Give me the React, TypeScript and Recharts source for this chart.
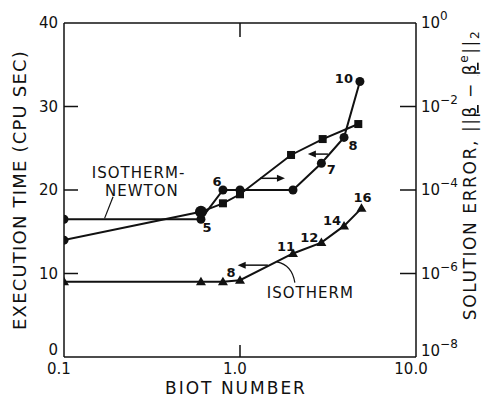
import {
  LabelList,
  Line,
  LineChart,
  ReferenceDot,
  ReferenceLine,
  XAxis,
  YAxis,
} from "recharts";

const FONT = "'DejaVu Sans', 'Liberation Sans', sans-serif";
const INK = "#111";

// isotherm-Newton, execution time (left axis), iteration counts beside points
const newtonTimeBiot = [0.1, 0.6, 0.8, 1.0, 2.0, 2.9, 3.9, 4.8];
const newtonTimeSec = [16.5, 16.5, 20.0, 20.0, 20.0, 23.2, 26.3, 33.0];
const newtonIters = [null, 5, 6, null, null, 7, 8, 10];

// isotherm-Newton, solution error (right axis)
const newtonErrBiot = [0.1, 0.6, 0.8, 1.0, 1.95, 2.95, 4.7];
const newtonErr = [6.3e-6, 3.0e-5, 4.8e-5, 7.9e-5, 6.9e-4, 1.66e-3, 3.8e-3];

// isotherm, execution time
const isoBiot = [0.1, 0.6, 0.8, 1.0, 2.0, 2.9, 3.9, 4.9];
const isoTimeSec = [9.0, 9.0, 9.0, 9.2, 12.4, 13.7, 15.7, 17.8];
const isoIters = [null, null, null, 8, 11, 12, 14, 16];

const xTicks = [0.1, 1, 10];
const xTickLabels = ["0.1", "1.0", "10.0"];
const timeTicks = [0, 10, 20, 30, 40];
const errTicks = [1e-8, 1e-6, 1e-4, 1e-2, 1];

const newtonTimeData = newtonTimeBiot.map((b, i) => ({ b, v: newtonTimeSec[i], n: newtonIters[i] }));
const newtonErrData = newtonErrBiot.map((b, i) => ({ b, v: newtonErr[i] }));
const isoData = isoBiot.map((b, i) => ({ b, v: isoTimeSec[i], n: isoIters[i] }));

// label offsets (px) from the marker, by iteration number
const newtonLabelOffset: Record<number, [number, number]> = {
  5: [6, 8],
  6: [-6, -9],
  7: [10, 6],
  8: [9, 8],
  10: [-16, -3],
};
const isoLabelOffset: Record<number, [number, number]> = {
  8: [-9, -8],
  11: [-7, -7],
  12: [-12, -5],
  14: [-12, -5],
  16: [1, -11],
};

function TimeTick({ x, y, payload }: any) {
  const v = payload.value;
  return (
    <g>
      {v > 0 && v < 40 && (
        <line x1={x} y1={y} x2={x + 14} y2={y} stroke={INK} strokeWidth={1.5} />
      )}
      <text
        x={x - 6}
        y={v === 0 ? y - 7 : y}
        textAnchor="end"
        dominantBaseline="central"
        fontSize={15}
        fontFamily={FONT}
        fill={INK}
      >
        {v}
      </text>
    </g>
  );
}

function ErrTick({ x, y, payload }: any) {
  const v = payload.value;
  const exp = Math.round(Math.log10(v));
  return (
    <g>
      {exp < 0 && exp > -8 && (
        <line x1={x - 16} y1={y} x2={x} y2={y} stroke={INK} strokeWidth={1.5} />
      )}
      <text x={x + 5} y={exp === -8 ? y - 1 : y + 5} fontSize={15} fontFamily={FONT} fill={INK}>
        <tspan>10</tspan>
        <tspan dy={-8} fontSize={12}>{exp === 0 ? "0" : `\u2212${-exp}`}</tspan>
      </text>
    </g>
  );
}

function BottomTick({ x, y, payload, index }: any) {
  return (
    <g>
      {payload.value === 1 && (
        <line x1={x} y1={y} x2={x} y2={y - 12} stroke={INK} strokeWidth={1.5} />
      )}
      <text x={x - 5} y={y + 12} textAnchor="middle" dominantBaseline="central" fontSize={15} fontFamily={FONT} fill={INK}>
        {xTickLabels[index]}
      </text>
    </g>
  );
}

function TopTick({ x, y, payload }: any) {
  if (payload.value !== 1) return <g />;
  return <line x1={x} y1={y} x2={x} y2={y + 14} stroke={INK} strokeWidth={1.5} />;
}

const circleDot = (r: number) => (p: any) => (
  <circle key={p.index} cx={p.cx} cy={p.cy} r={r} fill={INK} />
);

function errDot(p: any) {
  if (p.index < 2) {
    return <circle key={p.index} cx={p.cx} cy={p.cy} r={p.index === 1 ? 6 : 4.5} fill={INK} />;
  }
  return <rect key={p.index} x={p.cx - 4} y={p.cy - 4} width={8} height={8} fill={INK} />;
}

function triDot(p: any) {
  const s = 5;
  return (
    <polygon
      key={p.index}
      points={`${p.cx},${p.cy - s} ${p.cx + s},${p.cy + s * 0.7} ${p.cx - s},${p.cy + s * 0.7}`}
      fill={INK}
    />
  );
}

const iterLabel = (offsets: Record<number, [number, number]>) => (p: any) => {
  if (p.value == null) return null;
  const [dx, dy] = offsets[p.value] ?? [0, -10];
  return (
    <text
      x={p.x + dx}
      y={p.y + dy}
      textAnchor="middle"
      dominantBaseline="central"
      fontSize={13}
      fontWeight="bold"
      fontFamily={FONT}
      fill={INK}
    >
      {p.value}
    </text>
  );
};

function arrowShape(p: any) {
  const { x1, y1, x2, y2 } = p;
  const dir = Math.sign(x2 - x1) || 1;
  return (
    <g>
      <line x1={x1} y1={y1} x2={x2 - dir * 5} y2={y2} stroke={INK} strokeWidth={1.5} />
      <polygon points={`${x2},${y2} ${x2 - dir * 8},${y2 - 3.5} ${x2 - dir * 8},${y2 + 3.5}`} fill={INK} />
    </g>
  );
}

function curvedLeader(p: any) {
  const { x1, y1, x2, y2 } = p;
  const cx = x1 + 0.85 * (x2 - x1);
  const cy = y1 + 0.15 * (y2 - y1);
  return <path d={`M${x1},${y1} Q${cx},${cy} ${x2},${y2}`} fill="none" stroke={INK} strokeWidth={1.2} />;
}

const textShape = (label: string) => (p: any) => (
  <text
    x={p.cx}
    y={p.cy}
    dominantBaseline="central"
    fontSize={15}
    fontFamily={FONT}
    letterSpacing={1}
    fill={INK}
  >
    {label}
  </text>
);

function LeftTitle({ viewBox }: any) {
  const cx = 19;
  const cy = viewBox.y + viewBox.height / 2;
  return (
    <text
      x={cx}
      y={cy}
      transform={`rotate(-90 ${cx} ${cy})`}
      textAnchor="middle"
      dominantBaseline="central"
      fontSize={18}
      letterSpacing={1.2}
      fontFamily={FONT}
      fill={INK}
    >
      EXECUTION TIME (CPU SEC)
    </text>
  );
}

function RightTitle({ viewBox }: any) {
  const cx = 476;
  const cy = viewBox.y + viewBox.height / 2 - 15;
  return (
    <text
      x={cx}
      y={cy}
      transform={`rotate(-90 ${cx} ${cy})`}
      textAnchor="middle"
      fontSize={17}
      letterSpacing={1.6}
      fontFamily={FONT}
      fill={INK}
    >
      <tspan>SOLUTION ERROR, ||</tspan>
      <tspan style={{ textDecoration: "underline" }}>β</tspan>
      <tspan> − </tspan>
      <tspan style={{ textDecoration: "underline" }}>β</tspan>
      <tspan dy={-8} fontSize={12}>e</tspan>
      <tspan dy={8}>||</tspan>
      <tspan dy={3} fontSize={12}>2</tspan>
    </text>
  );
}

function BottomTitle({ viewBox }: any) {
  return (
    <text
      x={viewBox.x + viewBox.width / 2 - 4}
      y={388}
      textAnchor="middle"
      dominantBaseline="central"
      fontSize={17}
      letterSpacing={2}
      fontFamily={FONT}
      fill={INK}
    >
      BIOT NUMBER
    </text>
  );
}

export default function App() {
  return (
    <div style={{ position: "absolute", left: 0, top: 0, background: "#fff" }}>
      <LineChart width={485} height={398} margin={{ top: 0, right: 0, bottom: 0, left: 0 }}>
        <XAxis
          xAxisId="b"
          dataKey="b"
          type="number"
          scale="log"
          domain={[0.1, 10]}
          ticks={xTicks}
          allowDataOverflow
          height={41}
          tickSize={0}
          tickMargin={0}
          tickLine={false}
          axisLine={{ stroke: INK, strokeWidth: 1.5 }}
          tick={<BottomTick />}
          interval={0}
          label={{ content: <BottomTitle /> }}
        />
        <XAxis
          xAxisId="t"
          orientation="top"
          dataKey="b"
          type="number"
          scale="log"
          domain={[0.1, 10]}
          ticks={xTicks}
          allowDataOverflow
          height={23}
          tickSize={0}
          tickMargin={0}
          tickLine={false}
          axisLine={{ stroke: INK, strokeWidth: 1.5 }}
          tick={<TopTick />}
          interval={0}
        />
        <YAxis
          yAxisId="time"
          type="number"
          domain={[0, 40]}
          ticks={timeTicks}
          width={64}
          tickSize={0}
          tickMargin={0}
          tickLine={false}
          axisLine={{ stroke: INK, strokeWidth: 1.5 }}
          tick={<TimeTick />}
          interval={0}
          label={{ content: <LeftTitle /> }}
        />
        <YAxis
          yAxisId="err"
          orientation="right"
          type="number"
          scale="log"
          domain={[1e-8, 1]}
          ticks={errTicks}
          allowDataOverflow
          width={69}
          tickSize={0}
          tickMargin={0}
          tickLine={false}
          axisLine={{ stroke: INK, strokeWidth: 1.5 }}
          tick={<ErrTick />}
          interval={0}
          label={{ content: <RightTitle /> }}
        />

        <Line
          xAxisId="b"
          yAxisId="time"
          data={newtonTimeData}
          dataKey="v"
          type="linear"
          stroke={INK}
          strokeWidth={2}
          dot={circleDot(4.5)}
          activeDot={false}
          isAnimationActive={false}
        >
          <LabelList dataKey="n" content={iterLabel(newtonLabelOffset)} />
        </Line>
        <Line
          xAxisId="b"
          yAxisId="err"
          data={newtonErrData}
          dataKey="v"
          type="linear"
          stroke={INK}
          strokeWidth={2}
          dot={errDot}
          activeDot={false}
          isAnimationActive={false}
        />
        <Line
          xAxisId="b"
          yAxisId="time"
          data={isoData}
          dataKey="v"
          type="linear"
          stroke={INK}
          strokeWidth={2}
          dot={triDot}
          activeDot={false}
          isAnimationActive={false}
        >
          <LabelList dataKey="n" content={iterLabel(isoLabelOffset)} />
        </Line>

        {/* arrows: which axis each curve belongs to */}
        <ReferenceLine
          xAxisId="b"
          yAxisId="time"
          segment={[{ x: 1.3, y: 21.4 }, { x: 1.8, y: 21.4 }]}
          shape={arrowShape}
          ifOverflow="visible"
        />
        <ReferenceLine
          xAxisId="b"
          yAxisId="time"
          segment={[{ x: 3.16, y: 24.3 }, { x: 2.43, y: 24.3 }]}
          shape={arrowShape}
          ifOverflow="visible"
        />
        <ReferenceLine
          xAxisId="b"
          yAxisId="time"
          segment={[{ x: 1.44, y: 11.0 }, { x: 0.97, y: 11.0 }]}
          shape={arrowShape}
          ifOverflow="visible"
        />

        {/* curve names and leaders */}
        <ReferenceLine
          xAxisId="b"
          yAxisId="time"
          segment={[{ x: 0.19, y: 19.2 }, { x: 0.17, y: 16.6 }]}
          stroke={INK}
          strokeWidth={1.2}
          ifOverflow="visible"
        />
        <ReferenceLine
          xAxisId="b"
          yAxisId="time"
          segment={[{ x: 1.62, y: 11.4 }, { x: 2.05, y: 8.9 }]}
          shape={curvedLeader}
          ifOverflow="visible"
        />
        <ReferenceDot xAxisId="b" yAxisId="time" x={0.144} y={22.0} r={0} shape={textShape("ISOTHERM-")} ifOverflow="visible" />
        <ReferenceDot xAxisId="b" yAxisId="time" x={0.171} y={19.9} r={0} shape={textShape("NEWTON")} ifOverflow="visible" />
        <ReferenceDot xAxisId="b" yAxisId="time" x={1.42} y={7.7} r={0} shape={textShape("ISOTHERM")} ifOverflow="visible" />
      </LineChart>
    </div>
  );
}
